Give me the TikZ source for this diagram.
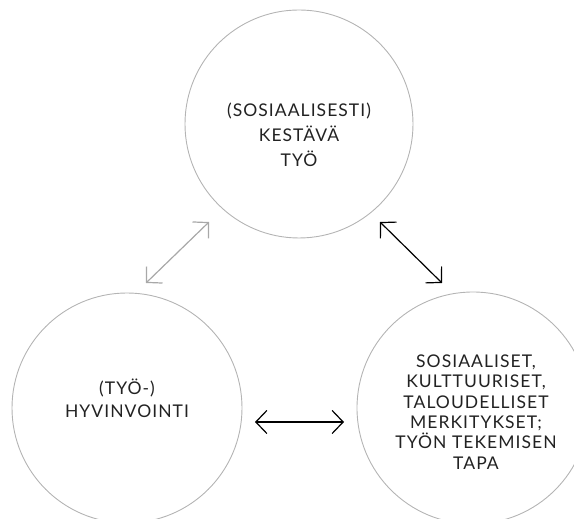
\documentclass[tikz,border=0pt]{standalone}
\usepackage{fontspec}
\newfontfamily\ringfont[LetterSpace=6]{Lato}
\usetikzlibrary{arrows.meta}
\definecolor{ringgray}{HTML}{B4B4B4}
\definecolor{arrgray}{HTML}{A8A8A8}
\definecolor{inktext}{HTML}{222222}
\tikzset{
  ring/.style={circle,draw=ringgray,line width=0.9pt,inner sep=0pt},
  ringtext/.style={align=center,text=inktext,font=\ringfont\fontsize{17.5}{25}\selectfont},
  both/.style={line width=1.2pt,{Straight Barb[length=11pt,width=23pt]}-{Straight Barb[length=11pt,width=23pt]}}
}

\begin{document}
\begin{tikzpicture}[x=1pt,y=1pt]
\useasboundingbox (0,0) rectangle (574,519);
\clip (0,0) rectangle (574,519);
% the three circles
\node[ring,minimum size=228pt] (work) at (299,395) {};
\node[ring,minimum size=230pt] (wellbeing) at (127,111) {};
\node[ring,minimum size=232pt] (meaning) at (473,111) {};
\node[ringtext] (worktext) at (299,384) {(SOSIAALISESTI)\\KESTÄVÄ\\TYÖ};
\node[ringtext,font=\ringfont\fontsize{17.5}{23}\selectfont] (wellbeingtext) at (127,121) {(TYÖ-)\\HYVINVOINTI};
\node[ringtext,font=\ringfont\fontsize{17.5}{20.3}\selectfont] (meaningtext) at (476,107)
  {SOSIAALISET,\\KULTTUURISET,\\TALOUDELLISET\\MERKITYKSET;\\TYÖN TEKEMISEN\\TAPA};
% arrow ends
\coordinate (wl) at (146,236);
\coordinate (wt) at (209,297);
\coordinate (mt) at (380,297);
\coordinate (mr) at (442,236);
\coordinate (bl) at (255,97);
\coordinate (br) at (344,97);
\draw[both,draw=arrgray] (wl) -- (wt);
\draw[both,draw=black] (mt) -- (mr);
\draw[both,draw=black] (bl) -- (br);
\end{tikzpicture}
\end{document}
